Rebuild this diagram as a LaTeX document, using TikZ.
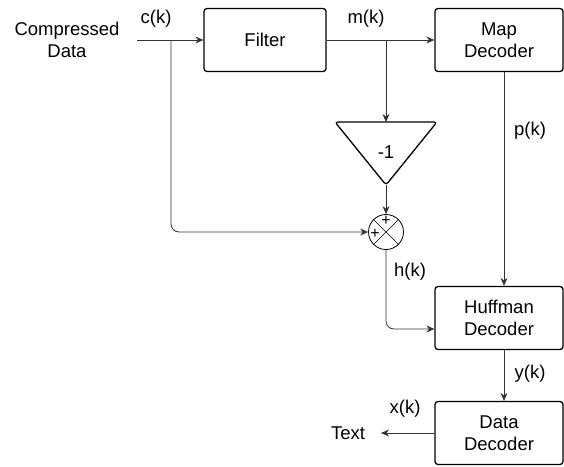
\documentclass[tikz,border=0pt]{standalone}
\usepackage{fontspec}
\setmainfont{Liberation Sans}
\usetikzlibrary{arrows.meta}

\begin{document}
\begin{tikzpicture}[x=1pt, y=-1pt, >={Stealth[length=8pt,width=7pt]},
    every node/.style = {font=\fontsize{18.5}{22}\selectfont, align=center},
    block/.style = {shape=rectangle, rounded corners=3pt, draw, line width=1.3pt,
                    minimum width=128pt, minimum height=63pt},
    wire/.style = {line width=0.8pt, draw=black!80}]
  \useasboundingbox (0,0) rectangle (564,466);

  % blocks
  \node[block, minimum width=122pt] (filter) at (265,40) {Filter};
  \node[block] (map) at (499,40) {Map\\Decoder};
  \node[block] (huff) at (499,318) {Huffman\\Decoder};
  \node[block] (data) at (499,433) {Data\\Decoder};

  % gain and summing junction
  \coordinate (gtop) at (386,122);
  \coordinate (gtip) at (386,185);
  \draw[line width=1.3pt, rounded corners=3pt] (335,122) -- (437,122) -- (gtip) -- cycle;
  \node (gain) at (386,152) {-1};
  \node[circle, draw, line width=0.8pt, minimum size=35pt, inner sep=0pt] (sum) at (386,232) {};
  \draw[line width=0.6pt] (sum.north west) -- (sum.south east)
                          (sum.north east) -- (sum.south west);
  \node[font=\fontsize{16}{16}\selectfont, inner sep=0pt] (plustop) at (386,221) {+};
  \node[font=\fontsize{16}{16}\selectfont, inner sep=0pt] (plusleft) at (375,234) {+};

  % inputs / outputs
  \node (src) at (67,40) {Compressed\\Data};
  \coordinate (cin) at (137,40);
  \coordinate (csplit) at (171,40);
  \coordinate (msplit) at (386,40);
  \node (txt) at (348,433) {Text};
  \coordinate (xout) at (381,433);

  % wires
  \draw[wire, ->] (cin) -- (filter.west);
  \draw[wire, ->, rounded corners=8pt] (csplit) |- (sum.west);
  \draw[wire, ->] (filter.east) -- (map.west);
  \draw[wire, ->] (msplit) -- (gtop);
  \draw[wire, ->] (gtip) -- (sum.north);
  \draw[wire, ->, rounded corners=8pt] (sum.south) |- ([yshift=-11pt]huff.west);
  \draw[wire, ->] ([xshift=5pt]map.south) -- ([xshift=5pt]huff.north);
  \draw[wire, ->] ([xshift=5pt]huff.south) -- ([xshift=5pt]data.north);
  \draw[wire, ->] (data.west) -- (xout);

  % signal labels
  \node (ck) at (156,19) {c(k)};
  \node (mk) at (366,19) {m(k)};
  \node (pk) at (530,131) {p(k)};
  \node (hk) at (410,272) {h(k)};
  \node (yk) at (530,374) {y(k)};
  \node (xk) at (405,409) {x(k)};
\end{tikzpicture}
\end{document}
